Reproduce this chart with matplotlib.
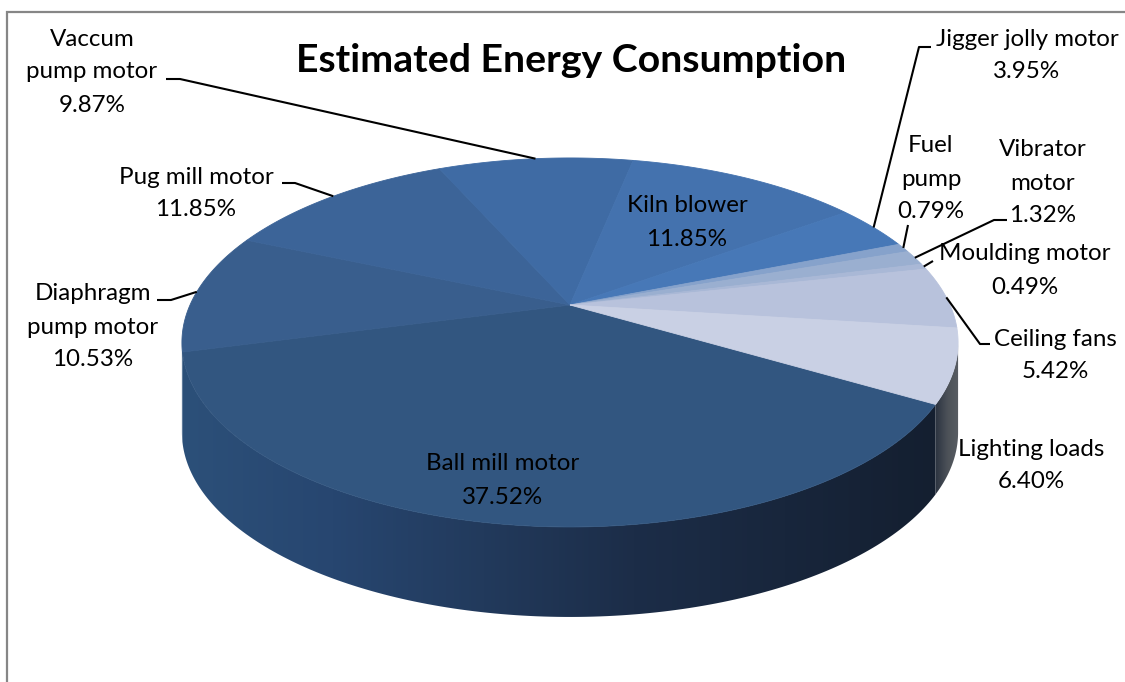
import numpy as np
import matplotlib
matplotlib.use("Agg")
import matplotlib.pyplot as plt
from matplotlib.patches import Polygon
from matplotlib.colors import LinearSegmentedColormap

plt.rcParams['font.family'] = ['Lato', 'DejaVu Sans']

# Shares in percent, clockwise from the lighting / ball mill boundary
categories = ["Ball mill motor", "Diaphragm pump motor", "Pug mill motor", "Vaccum pump motor",
              "Kiln blower", "Jigger jolly motor", "Fuel pump", "Vibrator motor",
              "Moulding motor", "Ceiling fans", "Lighting loads"]
shares = [37.52, 10.53, 11.85, 9.87, 11.85, 3.95, 0.79, 1.32, 0.49, 5.42, 6.40]
top_colors = ["#325680", "#395e8d", "#3c6498", "#3f6ba4", "#4472ae", "#4778b7", "#86a2cb",
              "#9aafd0", "#a9b8d6", "#b8c2dc", "#c9d0e4"]
label_lines = [["Ball mill motor"], ["Diaphragm", "pump motor"], ["Pug mill motor"],
               ["Vaccum", "pump motor"], ["Kiln blower"], ["Jigger jolly motor"],
               ["Fuel", "pump"], ["Vibrator", "motor"], ["Moulding motor"],
               ["Ceiling fans"], ["Lighting loads"]]
label_centers = [(503, 464), (93, 294), (196, 177), (92, 39), (687, 206), (1027, 39),
                 (931, 146), (1043, 150), (1025, 254), (1055, 339), (1031, 449)]
# Leader elbows in figure pixels; the last point of each leader sits on the rim
leader_elbows = {1: [(157, 300), (171, 300)], 2: [(282, 183), (295, 183)],
                 3: [(166, 79), (180, 79)], 5: [(931, 47), (919, 47)],
                 6: [(908, 225)], 7: [(1007, 220), (994, 220)],
                 8: [(933, 261)], 9: [(990, 344), (980, 344)]}

START_DEG = 30.3
APEX_X, APEX_Y = 570.0, 305.0
SCALE_X, SCALE_Y, PERSPECTIVE = 380.0, 176.9, 0.203
DEPTH = 90.0
LINE_STEP = 33


def rim(theta_deg, radius=1.0):
    """Project a point of the tilted disc to figure pixels (angle runs clockwise on screen)."""
    t = np.radians(theta_deg)
    u, v = radius * np.cos(t), radius * np.sin(t)
    w = 1 - PERSPECTIVE * v
    return APEX_X + SCALE_X * u / w, APEX_Y + SCALE_Y * v / w


def gradient_fill(ax, poly_xy, colors, x0, x1, y0, y1, zorder):
    """Fill a polygon with a horizontal colour ramp."""
    patch = Polygon(poly_xy, closed=True, fc="none", ec="none", transform=ax.transData)
    ax.add_patch(patch)
    cmap = LinearSegmentedColormap.from_list("ramp", colors)
    img = ax.imshow(np.linspace(0, 1, 256)[None, :], cmap=cmap, extent=(x0, x1, y1, y0),
                    aspect="auto", zorder=zorder, interpolation="bilinear")
    img.set_clip_path(patch)


fig = plt.figure(figsize=(11.25, 6.82), dpi=100)
ax = fig.add_axes([0, 0, 1, 1])
ax.set_axis_off()

sweeps = np.array(shares) / sum(shares) * 360
edges = START_DEG + np.concatenate([[0], np.cumsum(sweeps)])
mids = (edges[:-1] + edges[1:]) / 2

# Outer frame: left and top edges only
ax.plot([7, 7, 1125], [682, 12, 12], color="#868686", lw=1.6, solid_joinstyle="miter", zorder=1)

# Side wall of the disc, visible between the two horizontal extremes of the rim
RIGHT_EXT, LEFT_EXT = np.degrees(np.arcsin(PERSPECTIVE)), 180 - np.degrees(np.arcsin(PERSPECTIVE))
side_ramps = {0: ["#2c5079", "#274670", "#223a5c", "#1c2d48", "#18263c", "#141f30"],
              1: ["#2f5583", "#2c5079"],
              10: ["#2a3240", "#4c5158", "#5a5e64"]}
for i, ramp in side_ramps.items():
    lo, hi = edges[i], edges[i + 1]
    if i == 10:
        lo, hi = RIGHT_EXT, START_DEG
    if i == 1:
        hi = LEFT_EXT
    th = np.linspace(lo, hi, 160)
    xs, ys = rim(th)
    poly = np.vstack([np.column_stack([xs, ys]), np.column_stack([xs[::-1], ys[::-1] + DEPTH])])
    gradient_fill(ax, poly, ramp, xs.min() - 1, xs.max() + 1, ys.min() - 1, ys.max() + DEPTH + 1, 2)

# Top face wedges
for i, color in enumerate(top_colors):
    th = np.linspace(edges[i], edges[i + 1], max(int(sweeps[i] * 2), 4))
    xs, ys = rim(th)
    ax.fill(np.r_[APEX_X, xs], np.r_[APEX_Y, ys], fc=color, ec=color, lw=0.6, zorder=3)

# Leader lines run from the label to the rim at each wedge's middle angle
for i, elbow in leader_elbows.items():
    ex, ey = rim(mids[i])
    pts = list(elbow) + [(ex, ey)]
    ax.plot([p[0] for p in pts], [p[1] for p in pts], color="black", lw=1.5, zorder=4,
            solid_capstyle="butt")

# Name and percentage labels, one text per line
for i, (lines, (cx, cy)) in enumerate(zip(label_lines, label_centers)):
    rows = lines + [f"{shares[i]:.2f}%"]
    for k, row in enumerate(rows):
        ax.text(cx, cy + k * LINE_STEP, row, ha="center", va="center", fontsize=17.4,
                color="black", zorder=5)

ax.text(571, 61, "Estimated Energy Consumption", ha="center", va="center",
        fontsize=28.3, fontweight="bold", color="black", zorder=5)

ax.set_xlim(0, 1125)
ax.set_ylim(682, 0)
fig.savefig("out.png", dpi=100, facecolor="white")
